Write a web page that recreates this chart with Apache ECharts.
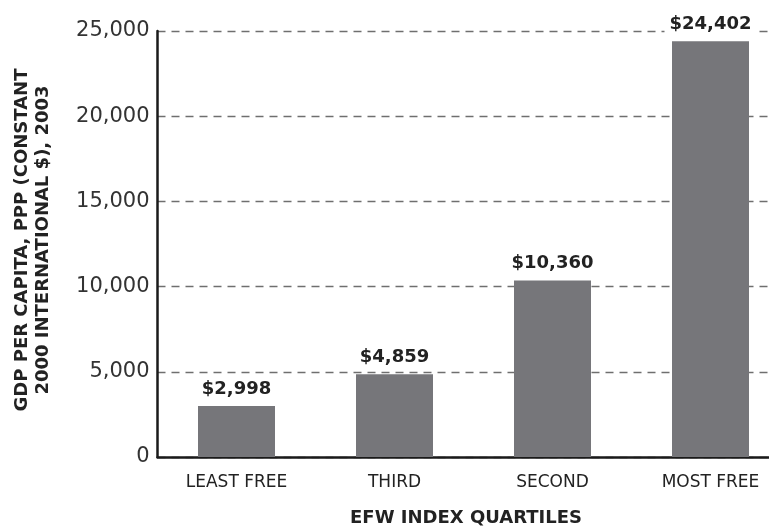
<!DOCTYPE html>
<html><head><meta charset="utf-8">
<script src="https://cdn.jsdelivr.net/npm/echarts@6/dist/echarts.min.js"></script>
<style>html,body{margin:0;padding:0;background:#fff;overflow:hidden;width:769px;height:527px}#c{width:790px;height:527px}</style>
</head><body><div id="c"></div>
<script>
const categories = ['LEAST FREE', 'THIRD', 'SECOND', 'MOST FREE'];
const gdpValues = [2998, 4859, 10360, 24402];
const yTicks = [0, 5000, 10000, 15000, 20000, 25000];
const yTitleLines = ['GDP PER CAPITA, PPP (CONSTANT', '2000 INTERNATIONAL $), 2003'];
const xTitle = 'EFW INDEX QUARTILES';

const chart = echarts.init(document.getElementById('c'));
const font = 'DejaVu Sans';
chart.setOption({
  animation: false,
  backgroundColor: '#fff',
  grid: { left: 157.5, right: 0.5, top: 31, bottom: 70, containLabel: false },
  xAxis: {
    type: 'category', data: categories,
    axisLine: { lineStyle: { color: '#1a1a1a', width: 2.5 } },
    axisTick: { show: false },
    axisLabel: { margin: 17, color: '#222', fontFamily: font, fontSize: 17 }
  },
  yAxis: {
    type: 'value', min: yTicks[0], max: yTicks[yTicks.length - 1], interval: 5000,
    axisLine: { show: true, lineStyle: { color: '#1a1a1a', width: 2.5 } },
    axisTick: { show: false },
    axisLabel: { margin: 8, color: '#333', fontFamily: font, fontSize: 21,
      formatter: v => v.toLocaleString('en-US') },
    splitLine: { show: true, lineStyle: { color: '#6f6f6f', type: [8, 6], width: 1.3 } }
  },
  series: [{
    type: 'bar', data: gdpValues, barWidth: 77,
    itemStyle: { color: '#76767a' },
    label: {
      show: true, position: 'top', distance: 7,
      fontFamily: font, fontWeight: 'bold', fontSize: 18, color: '#222',
      backgroundColor: '#fff', padding: [1, 5],
      formatter: p => '$' + p.value.toLocaleString('en-US')
    }
  }],
  graphic: [
    { type: 'text', x: 466, y: 518, style: { text: xTitle, fontFamily: font, fontWeight: 'bold', fontSize: 18, fill: '#222', textAlign: 'center', textVerticalAlign: 'middle' } },
    { type: 'text', x: 22, y: 240, rotation: Math.PI / 2, style: { text: yTitleLines[0], fontFamily: font, fontWeight: 'bold', fontSize: 18, fill: '#222', textAlign: 'center', textVerticalAlign: 'middle' } },
    { type: 'text', x: 43, y: 240, rotation: Math.PI / 2, style: { text: yTitleLines[1], fontFamily: font, fontWeight: 'bold', fontSize: 18, fill: '#222', textAlign: 'center', textVerticalAlign: 'middle' } }
  ]
});
</script></body></html>
